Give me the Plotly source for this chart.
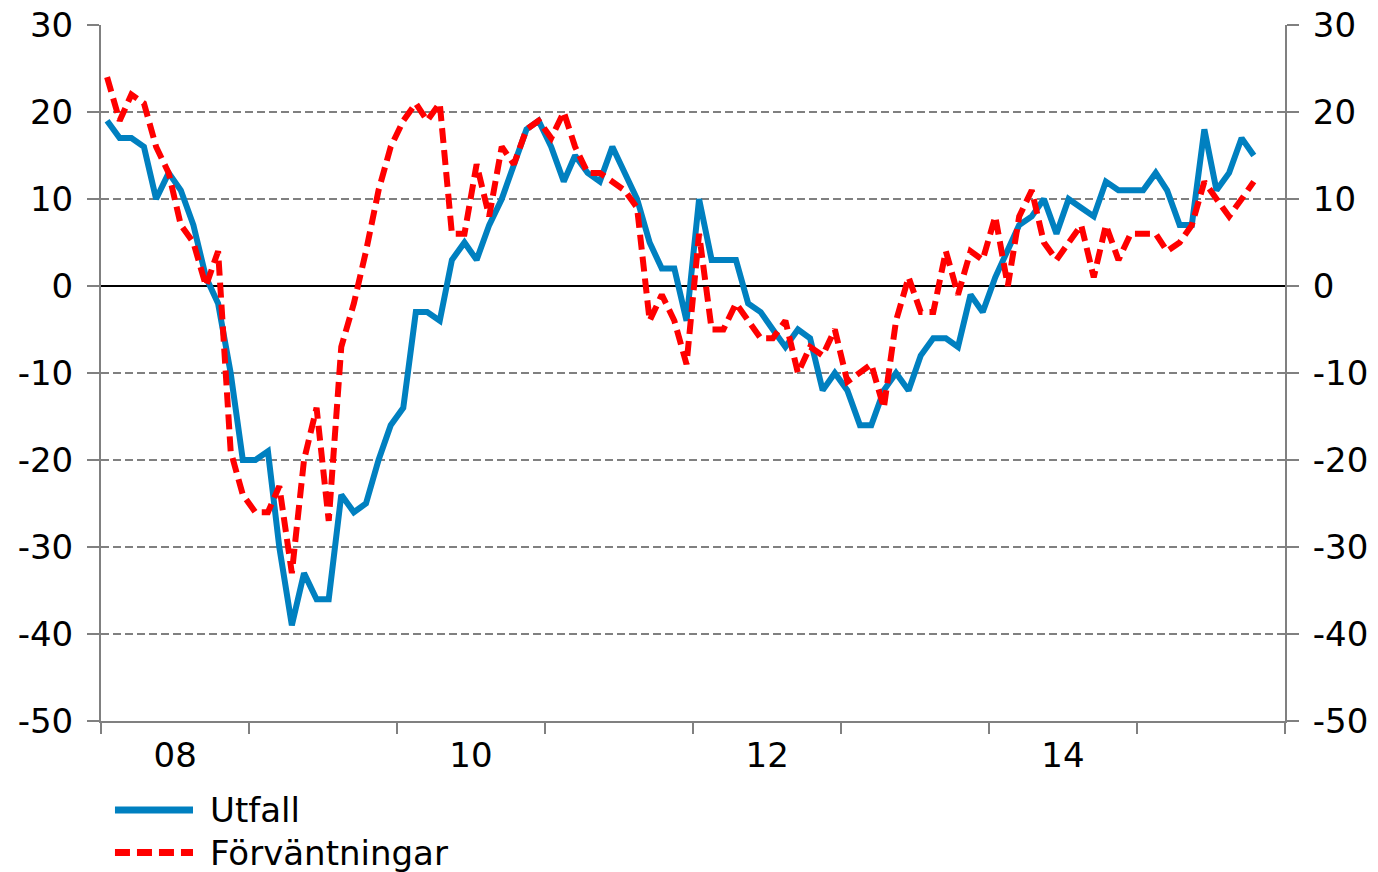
import pandas as pd
import plotly.graph_objects as go

# monthly observations, Jan 2008 .. Oct 2015
utfall = [19, 17, 17, 16, 10, 13, 11, 7, 1, -2,
          -10, -20, -20, -19, -30, -39, -33, -36, -36, -24,
          -26, -25, -20, -16, -14, -3, -3, -4, 3, 5,
          3, 7, 10, 14, 18, 19, 16, 12, 15, 13,
          12, 16, 13, 10, 5, 2, 2, -4, 10, 3,
          3, 3, -2, -3, -5, -7, -5, -6, -12, -10,
          -12, -16, -16, -12, -10, -12, -8, -6, -6, -7,
          -1, -3, 1, 4, 7, 8, 10, 6, 10, 9,
          8, 12, 11, 11, 11, 13, 11, 7, 7, 18,
          11, 13, 17, 15]
forvantningar = [24, 19, 22, 21, 16, 13, 7, 5, 0, 4,
                 -19, -24, -26, -26, -23, -33, -20, -14, -27, -7,
                 -2, 4, 11, 16, 19, 21, 19, 21, 6, 6,
                 14, 8, 16, 14, 18, 19, 17, 20, 16, 13,
                 13, 12, 11, 9, -4, -1, -4, -9, 6, -5,
                 -5, -2, -4, -6, -6, -4, -10, -7, -8, -5,
                 -11, -10, -9, -14, -4, 1, -3, -3, 4, -1,
                 4, 3, 8, 0, 8, 11, 5, 3, 5, 7,
                 1, 7, 3, 6, 6, 6, 4, 5, 7, 12,
                 10, 8, 10, 12]
months = pd.date_range("2008-01-01", periods=len(utfall), freq="MS") + pd.Timedelta(days=15)

year_starts = [f"{y}-01-01" for y in range(2008, 2017)]
label_pos = ["2008-07-02", "2010-07-02", "2012-07-02", "2014-07-02"]
label_text = ["08", "10", "12", "14"]
y_ticks = list(range(-50, 31, 10))
y_text = [str(v) for v in y_ticks]  # plain hyphen, as in the original

BLUE = "#0080c0"
RED = "#ff0000"
GRAY = "#808080"
DASH = "15px,7px"

fig = go.Figure()
fig.add_trace(go.Scatter(x=months, y=utfall, mode="lines", name="Utfall",
                         line=dict(color=BLUE, width=6), showlegend=False))
fig.add_trace(go.Scatter(x=months, y=forvantningar, mode="lines", name="Förväntningar",
                         yaxis="y2",
                         line=dict(color=RED, width=6, dash=DASH), showlegend=False))

yax = dict(range=[-50, 30], tickmode="array", tickvals=y_ticks, ticktext=y_text,
           showline=True, linecolor=GRAY, linewidth=2, automargin=False,
           ticks="outside", ticklen=12, tickwidth=2, tickcolor=GRAY,
           ticklabelstandoff=7, ticklabeloverflow="allow")

# the page body adds an 8px offset, so the figure is 8px smaller than the window
fig.update_layout(
    width=1370, height=864,
    margin=dict(l=93, r=93, t=17, b=151),
    paper_bgcolor="white", plot_bgcolor="white",
    font=dict(family="DejaVu Sans", size=34, color="black"),
    xaxis=dict(type="date", range=[year_starts[0], year_starts[-1]], automargin=False,
               tickmode="array", tickvals=label_pos, ticktext=label_text,
               ticks="", showgrid=False, showline=True, linecolor=GRAY, linewidth=2,
               ticklabelstandoff=3, ticklabeloverflow="allow",
               minor=dict(tickmode="array", tickvals=year_starts, ticks="outside",
                          ticklen=11, tickwidth=2, tickcolor=GRAY, showgrid=False)),
    yaxis=dict(**yax, showgrid=True, gridcolor=GRAY, gridwidth=1.5, griddash="8px,4px",
               zeroline=True, zerolinecolor="black", zerolinewidth=2),
    yaxis2=dict(**yax, overlaying="y", side="right", anchor="x",
                showgrid=False, zeroline=False),
)

# legend drawn below the plot
legend_items = [("Utfall", BLUE, "solid", -0.128), ("Förväntningar", RED, DASH, -0.189)]
for text, color, dash, yy in legend_items:
    fig.add_shape(type="line", xref="paper", yref="paper",
                  x0=0.0118, x1=0.0777, y0=yy, y1=yy,
                  line=dict(color=color, width=7, dash=dash))
    fig.add_annotation(xref="paper", yref="paper", x=0.0904, y=yy, text=text,
                       showarrow=False, xanchor="left", yanchor="middle",
                       font=dict(size=34, color="black"))

fig.write_html("out.html")
